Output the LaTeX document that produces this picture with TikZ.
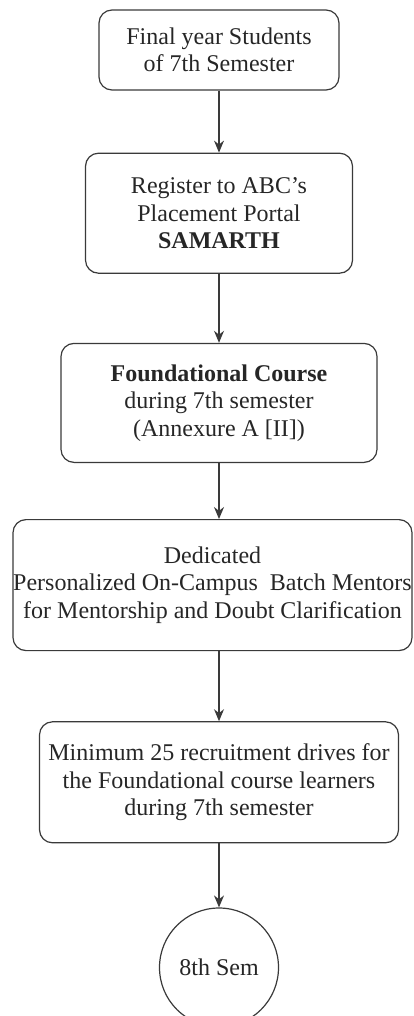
\documentclass[tikz,border=0pt]{standalone}
\usepackage{fontspec}
\setmainfont{Liberation Serif}
\usepackage{tikz}
\usetikzlibrary{arrows.meta, positioning}
\definecolor{flowline}{RGB}{58,58,58}
\definecolor{flowtext}{RGB}{38,38,38}

\begin{document}
\begin{tikzpicture}[
        x=1pt, y=1pt,
        stepbox/.style={draw=flowline, line width=1.2pt, rounded corners=13pt,
                        align=center, inner sep=0pt, text=flowtext,
                        font=\fontsize{24}{27.5}\selectfont},
        semnode/.style={circle, draw=flowline, line width=1.2pt, minimum size=119pt,
                        inner sep=0pt, text=flowtext, font=\fontsize{24}{27.5}\selectfont},
        flow/.style={-{Stealth[length=12pt, width=10pt]}, line width=1.2pt, draw=flowline}
      ]
      \useasboundingbox (0,0) rectangle (413,-1016);

      \node[stepbox, minimum width=240pt, minimum height=80pt] (final) at (219,-50)
        {Final year Students\\of 7th Semester};
      \node[stepbox, minimum width=267pt, minimum height=120pt] (register) [below=62pt of final]
        {Register to ABC's\\Placement Portal\\\textbf{SAMARTH}};
      \node[stepbox, minimum width=316pt, minimum height=119pt] (course) [below=69pt of register]
        {\textbf{Foundational Course}\\during 7th semester\\(Annexure A [II])};
      \node[stepbox, minimum width=399pt, minimum height=131pt] (mentors) [below=56pt of course, xshift=-6.5pt]
        {Dedicated\\Personalized On-Campus~ Batch Mentors\\for Mentorship and Doubt Clarification};
      \node[stepbox, minimum width=359pt, minimum height=121pt] (drives) [below=70pt of mentors, xshift=6.5pt]
        {Minimum 25 recruitment drives for\\the Foundational course learners\\during 7th semester};
      \node[semnode] (sem8) [below=64pt of drives] {8th Sem};

      \draw[flow] (final) -- (register);
      \draw[flow] (register) -- (course);
      \draw[flow] (course) -- (course |- mentors.north);
      \draw[flow] (drives |- mentors.south) -- (drives);
      \draw[flow] (drives) -- (sem8);
    \end{tikzpicture}
\end{document}
